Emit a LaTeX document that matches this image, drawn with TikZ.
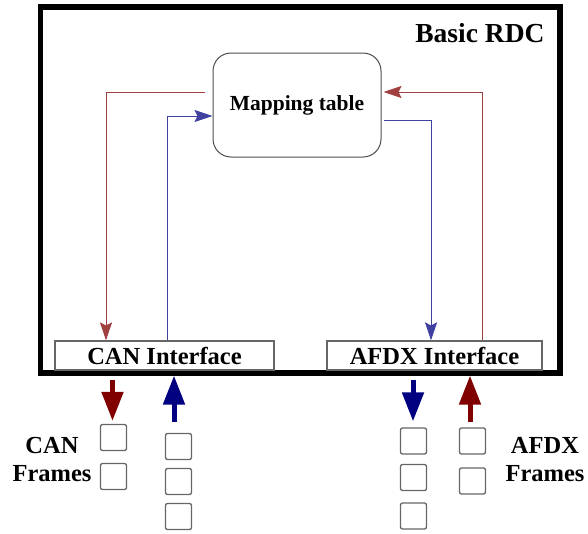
\documentclass[tikz,border=0pt]{standalone}
\usepackage{fontspec}
\setmainfont{Liberation Serif}
\usetikzlibrary{arrows.meta}
\definecolor{rdcred}{RGB}{128,0,0}
\definecolor{rdcblue}{RGB}{0,0,128}
\begin{document}
\begin{tikzpicture}[x=1pt, y=-1pt]
                \tikzstyle{rdcbox}=[
                    draw, line width=5.5pt, inner sep=0pt,
                    minimum width=519.5pt, minimum height=366pt]
                \tikzstyle{iface}=[
                    draw=black!60, line width=1.2pt, fill=white, inner sep=0pt,
                    minimum height=29pt, font=\fontsize{24.5}{28}\selectfont\bfseries]
                \tikzstyle{frame}=[
                    draw=black!60, line width=1.3pt, rounded corners=2pt,
                    minimum size=26pt, inner sep=0pt]
                \tikzstyle{redlink}=[rdcred!75, line width=1pt,
                    arrows={-Stealth[length=18pt, width=12pt, inset=3pt]}]
                \tikzstyle{bluelink}=[rdcblue!75, line width=1pt,
                    arrows={-Stealth[length=18pt, width=12pt, inset=3pt]}]
                \tikzstyle{bigarrow}=[line width=5pt,
                    arrows={-Triangle[length=29pt, width=21pt]}]
                \useasboundingbox (0,0) rectangle (588,533);

                \node [rdcbox] (rdc) at (300.25, 190) {};
                \node [anchor=east, font=\fontsize{27.5}{30}\selectfont\bfseries]
                    (title) at (548, 33) {Basic RDC};

                \node [draw=black!70, line width=1pt, rounded corners=18pt,
                    minimum width=168pt, minimum height=104pt,
                    font=\fontsize{21.5}{24}\selectfont\bfseries]
                    (map) at (297, 105) {Mapping table};

                \node [iface, minimum width=219pt] (can) at (164.5, 355.5) {CAN Interface};
                \node [iface, minimum width=215pt] (afdx) at (434.5, 355.5) {AFDX Interface};

                % thin links inside the RDC
                \draw [redlink] ([shift={(-8,-13)}]map.west) -| ([shift={(-58.5,0)}]can.north);
                \draw [bluelink] ([shift={(2.5,0)}]can.north) |- ([shift={(0,11)}]map.west);
                \draw [bluelink] ([shift={(2,15)}]map.east) -| ([shift={(-3.5,0)}]afdx.north);
                \draw [redlink] ([shift={(47.5,0)}]afdx.north) |- ([shift={(2,-13)}]map.east);

                % frames
                \foreach \name / \y in {1/437.5, 2/476.5}
                    \node [frame] (canA-\name) at (113.5, \y) {};
                \foreach \name / \y in {1/446.5, 2/481.5, 3/516.5}
                    \node [frame] (canB-\name) at (178.5, \y) {};
                \foreach \name / \y in {1/441, 2/477.5, 3/516}
                    \node [frame] (afdxA-\name) at (413.5, \y) {};
                \foreach \name / \y in {1/441, 2/481}
                    \node [frame] (afdxB-\name) at (472.5, \y) {};

                \node [align=center, font=\fontsize{24.5}{28}\selectfont\bfseries]
                    (canlbl) at (52, 459) {CAN\\Frames};
                \node [align=center, font=\fontsize{24.5}{28}\selectfont\bfseries]
                    (afdxlbl) at (545, 460) {AFDX\\Frames};

                % frames in and out
                \draw [bigarrow, rdcred] ([shift={(-52,9)}]can.south) -- ([shift={(-1,-3)}]canA-1.north);
                \draw [bigarrow, rdcblue] ([shift={(-4.5,-11)}]canB-1.north) -- ([shift={(9.5,5)}]can.south);
                \draw [bigarrow, rdcblue] ([shift={(-21.5,9)}]afdx.south) -- ([shift={(-0.5,-6)}]afdxA-1.north);
                \draw [bigarrow, rdcred] ([shift={(-2.5,-5)}]afdxB-1.north) -- ([shift={(35.5,5)}]afdx.south);
            \end{tikzpicture}
\end{document}
